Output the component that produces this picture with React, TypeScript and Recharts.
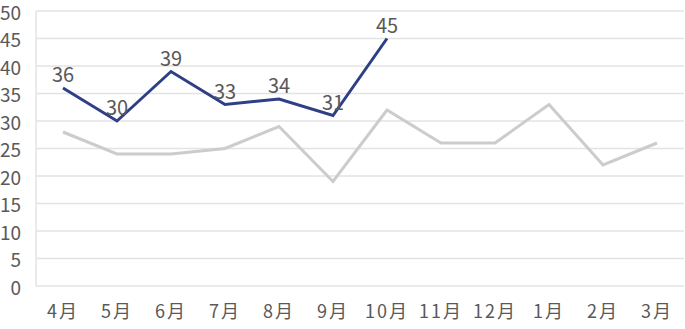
import { CartesianGrid, LabelList, Line, LineChart, XAxis, YAxis } from "recharts";

const months = ["4月", "5月", "6月", "7月", "8月", "9月", "10月", "11月", "12月", "1月", "2月", "3月"];
const lastYear = [28, 24, 24, 25, 29, 19, 32, 26, 26, 33, 22, 26];
const thisYear: (number | null)[] = [36, 30, 39, 33, 34, 31, 45, null, null, null, null, null];
const yTicks = [0, 5, 10, 15, 20, 25, 30, 35, 40, 45, 50];

const data = months.map((month, i) => ({
  month,
  lastYear: lastYear[i],
  thisYear: thisYear[i],
}));

const font = '"Noto Sans CJK JP", "Noto Sans", sans-serif';

export default function App() {
  return (
    <div style={{ position: "absolute", left: 0, top: 0, fontFamily: font }}>
      <LineChart width={685} height={329} data={data} margin={{ top: 11, right: 1, bottom: 0, left: 0 }}>
        <CartesianGrid vertical={false} stroke="#e3e3e3" strokeWidth={1.5} />
        <XAxis
          dataKey="month"
          axisLine={false}
          tickLine={false}
          height={43}
          tickMargin={13}
          padding={{ left: 27, right: 27 }}
          tick={{ fontSize: 18, fill: "#595959", fontFamily: font, letterSpacing: 2 }}
        />
        <YAxis
          domain={[0, 50]}
          ticks={yTicks}
          width={36}
          interval={0}
          axisLine={{ stroke: "#e3e3e3", strokeWidth: 1.5 }}
          tickLine={false}
          tickMargin={9}
          tick={{ fontSize: 19, fill: "#595959", fontFamily: font, dy: 2 }}
        />
        <Line
          dataKey="lastYear"
          stroke="#cccccc"
          strokeWidth={3}
          dot={false}
          isAnimationActive={false}
        />
        <Line
          dataKey="thisYear"
          stroke="#2f3f87"
          strokeWidth={3}
          dot={false}
          isAnimationActive={false}
        >
          <LabelList dataKey="thisYear" position="top" offset={6} fill="#595959" fontSize={20} fontFamily={font} />
        </Line>
      </LineChart>
    </div>
  );
}
